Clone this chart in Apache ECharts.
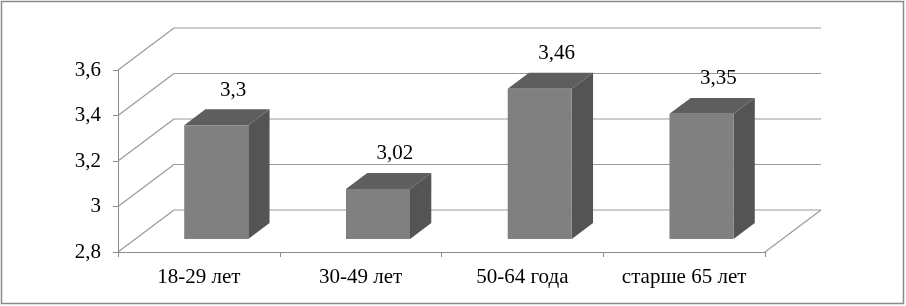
<!DOCTYPE html>
<html>
<head>
<meta charset="utf-8">
<script src="https://cdn.jsdelivr.net/npm/echarts@6/dist/echarts.min.js"></script>
<style>html,body{margin:0;padding:0;background:#fff;}#c{width:906px;height:306px;}</style>
</head>
<body>
<div id="c"></div>
<script>
var categories = ['18-29 лет', '30-49 лет', '50-64 года', 'старше 65 лет'];
var values = [3.3, 3.02, 3.46, 3.35];
var yTicks = [2.8, 3.0, 3.2, 3.4, 3.6];

var DEPTH_X = 56, DEPTH_Y = -42;      // full depth of the 3D box
var FRONT_GAP = 0.31, BAR_DEPTH = 0.38; // fractions of depth
var BAR_W = 0.396;                      // fraction of band width
var FONT = '"Liberation Serif", "Times New Roman", serif';

function fmt(v) { return String(parseFloat(Number(v).toFixed(2))).replace('.', ','); }

var chart = echarts.init(document.getElementById('c'), null, {renderer: 'canvas'});
chart.setOption({
  animation: false,
  backgroundColor: '#fff',
  graphic: [{
    type: 'rect', shape: {x: 1.5, y: 1.5, width: 902, height: 302},
    style: {fill: 'none', stroke: '#8a8a8a', lineWidth: 1.5}, z: -10
  }],
  grid: {left: 118, top: 70, width: 647, height: 182},
  xAxis: {
    type: 'category', data: categories,
    axisLine: {lineStyle: {color: '#8a8a8a', width: 1}},
    axisTick: {show: true, interval: 0, length: 5, lineStyle: {color: '#8a8a8a'}},
    axisLabel: {color: '#000', fontFamily: FONT, fontSize: 21, margin: 15, interval: 0},
    splitLine: {show: false}
  },
  yAxis: {
    type: 'value', min: 2.8, max: 3.6, interval: 0.2,
    axisLine: {show: true, lineStyle: {color: '#8a8a8a', width: 1}},
    axisTick: {show: true, length: 5, lineStyle: {color: '#8a8a8a'}},
    axisLabel: {color: '#000', fontFamily: FONT, fontSize: 21, margin: 17, formatter: fmt},
    splitLine: {show: false}
  },
  series: [
    {
      type: 'custom', z: 1, silent: true,
      data: yTicks.map(function (v) { return [0, v]; }),
      renderItem: function (params, api) {
        var cs = params.coordSys;
        var y = api.coord([0, api.value(1)])[1];
        var x0 = cs.x, x1 = cs.x + cs.width;
        var st = {stroke: '#9a9a9a', lineWidth: 1.2, fill: 'none'};
        var children = [
          {type: 'line', shape: {x1: x0, y1: y, x2: x0 + DEPTH_X, y2: y + DEPTH_Y}, style: st},
          {type: 'line', shape: {x1: x0 + DEPTH_X, y1: y + DEPTH_Y, x2: x1 + DEPTH_X, y2: y + DEPTH_Y}, style: st}
        ];
        if (params.dataIndex === 0) {
          children.push({type: 'line', shape: {x1: x1, y1: y, x2: x1 + DEPTH_X, y2: y + DEPTH_Y}, style: st});
        }
        return {type: 'group', children: children};
      }
    },
    {
      type: 'custom', z: 5, silent: true,
      data: values.map(function (v, i) { return [i, v]; }),
      renderItem: function (params, api) {
        var i = api.value(0), v = api.value(1);
        var top = api.coord([i, v]);
        var bot = api.coord([i, 2.8]);
        var band = api.size([1, 0])[0];
        var w = band * BAR_W;
        var fdx = DEPTH_X * FRONT_GAP, fdy = DEPTH_Y * FRONT_GAP;
        var bdx = DEPTH_X * BAR_DEPTH, bdy = DEPTH_Y * BAR_DEPTH;
        var x0 = top[0] - w / 2 + fdx;
        var yT = top[1] + fdy, yB = bot[1] + fdy;
        return {type: 'group', children: [
          {type: 'polygon', shape: {points: [[x0 + w, yT], [x0 + w + bdx, yT + bdy], [x0 + w + bdx, yB + bdy], [x0 + w, yB]]},
            style: {fill: '#545454'}},
          {type: 'polygon', shape: {points: [[x0, yT], [x0 + bdx, yT + bdy], [x0 + w + bdx, yT + bdy], [x0 + w, yT]]},
            style: {fill: '#5e5e5e'}},
          {type: 'rect', shape: {x: x0, y: yT, width: w, height: yB - yT},
            style: {fill: '#808080'}},
          {type: 'text', style: {text: fmt(v), x: x0 + w / 2 + 17, y: yT + bdy - 19,
            align: 'center', verticalAlign: 'middle', fill: '#000', font: '21px ' + FONT}}
        ]};
      }
    }
  ]
});
</script>
</body>
</html>
